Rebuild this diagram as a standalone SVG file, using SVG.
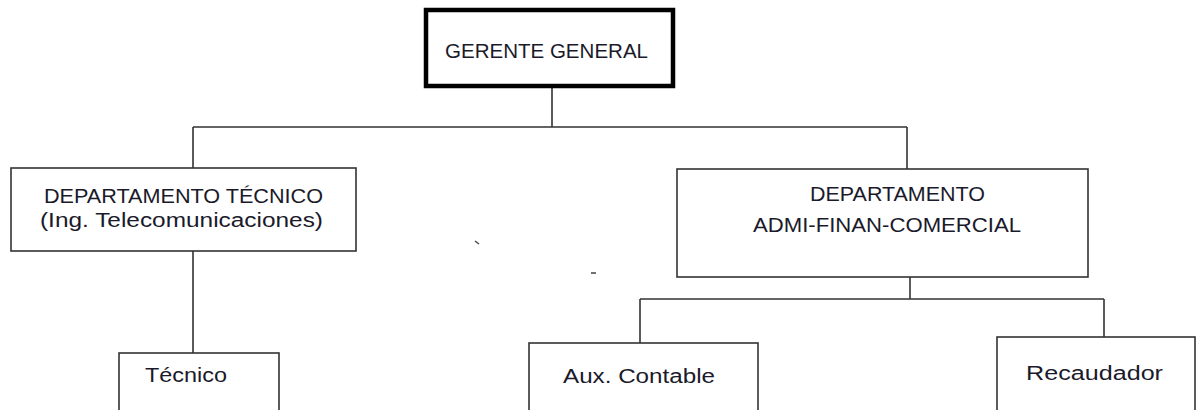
<svg xmlns="http://www.w3.org/2000/svg" width="1202" height="410" viewBox="0 0 1202 410">
<style>
.box{fill:#fff;stroke:#333;stroke-width:1.6}
.main{fill:#fff;stroke:#000;stroke-width:4.5}
.t{font-family:"Liberation Sans",Arial,sans-serif;font-size:20px;fill:#1a1a2a}
.c{fill:none;stroke:#333;stroke-width:1.6}
</style>
<rect width="1202" height="410" fill="#fff"/>
<g id="connectors">
<path class="c" d="M552 88V127M193 127H907M193 127V168M907 127V169M193 251V353M910 277V299M640 299H1104M640 299V343M1104 299V337"/>
<path d="M475 241L479 244M591 273H596" stroke="#444" stroke-width="1.4"/>
</g>
<g id="gerente">
<rect class="main" x="426" y="10" width="247" height="76"/>
<text class="t" x="445" y="58" textLength="203" lengthAdjust="spacingAndGlyphs">GERENTE GENERAL</text>
</g>
<g id="dep-tecnico">
<rect class="box" x="11" y="168" width="345" height="83"/>
<text class="t" x="44" y="203" textLength="279" lengthAdjust="spacingAndGlyphs">DEPARTAMENTO TÉCNICO</text>
<text class="t" x="40" y="227" textLength="283" lengthAdjust="spacingAndGlyphs">(Ing. Telecomunicaciones)</text>
</g>
<g id="dep-admin">
<rect class="box" x="677" y="169" width="411" height="108"/>
<text class="t" x="810" y="201" textLength="175" lengthAdjust="spacingAndGlyphs">DEPARTAMENTO</text>
<text class="t" x="753" y="232" textLength="268" lengthAdjust="spacingAndGlyphs">ADMI-FINAN-COMERCIAL</text>
</g>
<g id="tecnico">
<rect class="box" x="119" y="353" width="160" height="80"/>
<text class="t" x="145" y="382" textLength="82" lengthAdjust="spacingAndGlyphs">Técnico</text>
</g>
<g id="aux-contable">
<rect class="box" x="529" y="343" width="229" height="90"/>
<text class="t" x="563" y="383" textLength="152" lengthAdjust="spacingAndGlyphs">Aux. Contable</text>
</g>
<g id="recaudador">
<rect class="box" x="997" y="337" width="198" height="96"/>
<text class="t" x="1026" y="380" textLength="137" lengthAdjust="spacingAndGlyphs">Recaudador</text>
</g>
</svg>
